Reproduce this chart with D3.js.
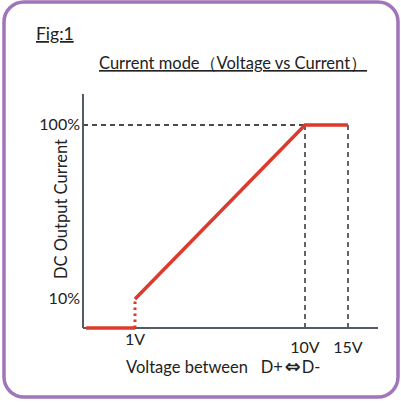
<!DOCTYPE html>
<html>
<head>
<meta charset="utf-8">
<script src="https://cdn.jsdelivr.net/npm/d3@7"></script>
<style>
  body { margin: 0; background: #fff; }
  text { font-family: Lato, "Open Sans", sans-serif; fill: #222; white-space: pre; }
</style>
</head>
<body>
<div class="chart"></div>
<script>
// voltage breakpoints (V) and output current (%)
const voltTicks = [1, 10, 15]
const voltLabels = ["1V", "10V", "15V"]
const currentTicks = [10, 100]
const currentLabels = ["10%", "100%"]
const offSeg = [[0.06, 0], [1, 0]]
const jumpSeg = [[1, 0], [1, 10]]
const rampSeg = [[1, 10], [10, 100], [15, 100]]

const red = "#dc3a2c"
const axisColor = "#555b66"

const svg = d3.select("div.chart").append("svg")
    .attr("width", 401)
    .attr("height", 403)

// frame
svg.append("rect")
    .attr("x", 4).attr("y", 2)
    .attr("width", 394).attr("height", 395)
    .attr("rx", 20)
    .attr("fill", "none")
    .attr("stroke", "#a274b9")
    .attr("stroke-width", 3.5)

// the axis is not to scale in the figure, so use piecewise scales
const x = d3.scaleLinear().domain([0, 1, 10, 15, 18]).range([83, 135, 305, 348, 378])
const y = d3.scaleLinear().domain([0, 10, 100, 120]).range([328, 299, 125, 94])

const line = d3.line().x(d => x(d[0])).y(d => y(d[1]))

// guide lines
svg.append("line")
    .attr("x1", x(0)).attr("x2", x(10))
    .attr("y1", y(100)).attr("y2", y(100))
    .attr("stroke", "#111").attr("stroke-width", 1.3)
    .attr("stroke-dasharray", "5,4")
svg.selectAll(".vguide")
    .data([10, 15])
    .enter().append("line")
    .attr("class", "vguide")
    .attr("x1", d => x(d)).attr("x2", d => x(d))
    .attr("y1", y(100)).attr("y2", y(0))
    .attr("stroke", "#111").attr("stroke-width", 1.3)
    .attr("stroke-dasharray", "5,4")

// axes
svg.append("line")
    .attr("x1", x(0)).attr("x2", x(0))
    .attr("y1", y(120)).attr("y2", y(0))
    .attr("stroke", axisColor).attr("stroke-width", 2)
svg.append("line")
    .attr("x1", x(0)).attr("x2", x(18))
    .attr("y1", y(0)).attr("y2", y(0))
    .attr("stroke", axisColor).attr("stroke-width", 2)

// curve
svg.append("path").datum(offSeg)
    .attr("d", line)
    .attr("fill", "none").attr("stroke", red).attr("stroke-width", 3.5)
svg.append("path").datum(jumpSeg)
    .attr("d", line)
    .attr("fill", "none").attr("stroke", red).attr("stroke-width", 3)
    .attr("stroke-dasharray", "2.5,3.5")
svg.append("path").datum(rampSeg)
    .attr("d", line)
    .attr("fill", "none").attr("stroke", red).attr("stroke-width", 3.5)

// tick labels
svg.selectAll(".xlab")
    .data(voltTicks)
    .enter().append("text")
    .attr("class", "xlab")
    .attr("x", d => x(d))
    .attr("y", (d, i) => i == 0 ? 345 : 353)
    .attr("text-anchor", "middle")
    .style("font-size", "16px")
    .text((d, i) => voltLabels[i])

svg.selectAll(".ylab")
    .data(currentTicks)
    .enter().append("text")
    .attr("class", "ylab")
    .attr("x", 80)
    .attr("y", d => y(d) + 5)
    .attr("text-anchor", "end")
    .style("font-size", "16px")
    .text((d, i) => currentLabels[i])

// titles
svg.append("text")
    .attr("x", 36).attr("y", 40)
    .style("font-size", "17.5px")
    .style("text-decoration", "underline")
    .text("Fig:1")

svg.append("text")
    .attr("x", 99).attr("y", 69)
    .style("font-size", "16.5px")
    .style("text-decoration", "underline")
    .text("Current mode（Voltage vs Current）")

const xTitle = svg.append("text")
    .attr("x", 126).attr("y", 373)
    .style("font-size", "16.5px")
xTitle.append("tspan").text("Voltage between   D+")
xTitle.append("tspan").attr("dx", 2).style("font-family", "'DejaVu Sans'")
    .style("font-size", "19px").style("font-weight", "bold").text("⇔")
xTitle.append("tspan").attr("dx", 1).text("D-")

svg.append("text")
    .attr("transform", "translate(67,209) rotate(-90)")
    .attr("text-anchor", "middle")
    .style("font-size", "16.5px")
    .text("DC Output Current")
</script>
</body>
</html>
